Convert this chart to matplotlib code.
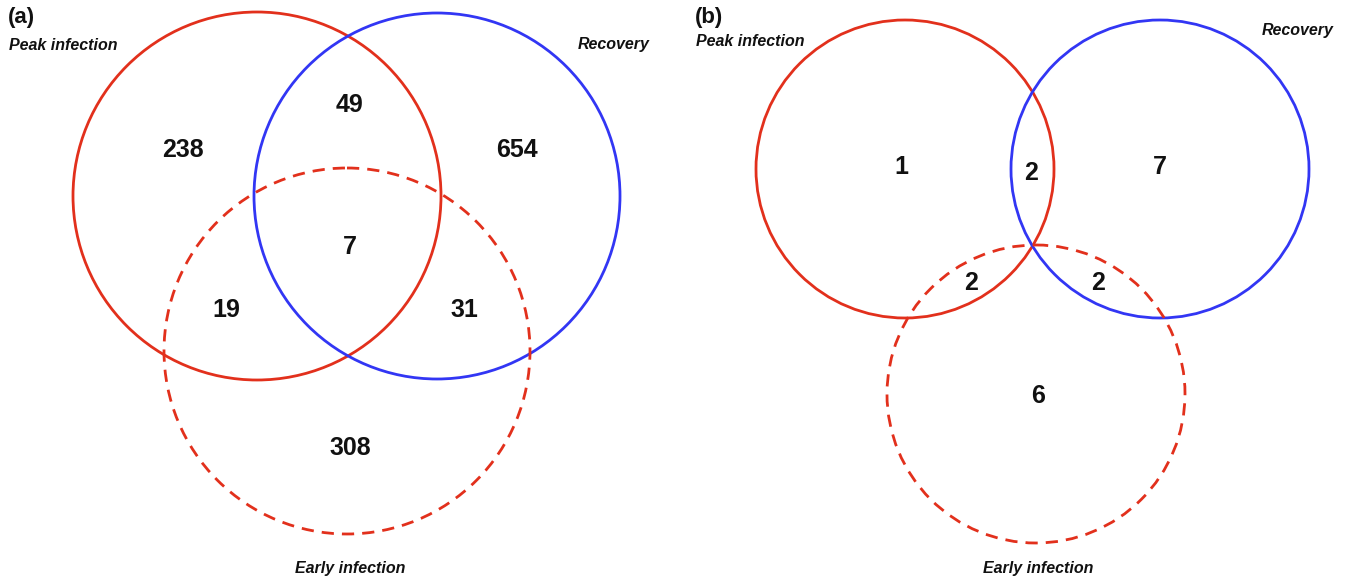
import matplotlib.pyplot as plt
from matplotlib.patches import Circle

plt.rcParams['font.family'] = ['Liberation Sans', 'DejaVu Sans']

# Gene counts per Venn region
panel_a_counts = [238, 49, 654, 7, 19, 31, 308]
panel_b_counts = [1, 2, 7, 2, 2, 6]
set_names = ["Peak infection", "Recovery", "Early infection"]
panel_titles = ["(a)", "(b)"]

RED = "#e2301c"
BLUE = "#3236f4"

fig = plt.figure(figsize=(13.45, 5.78), dpi=100)
ax = fig.add_axes([0, 0, 1, 1])
ax.set_xlim(0, 1345)
ax.set_ylim(578, 0)
ax.set_aspect('equal')
ax.axis('off')

LW = 2.0


def draw_circle(cx, cy, r, color, dashed=False):
    c = Circle((cx, cy), r, fill=False, edgecolor=color, linewidth=LW,
               linestyle=(0, (4.4, 2.9)) if dashed else '-')
    ax.add_patch(c)


num_kw = dict(ha='center', va='center', fontsize=18, fontweight='bold', color='#111111')
lab_kw = dict(fontsize=11.5, fontweight='bold', style='italic', color='#111111', va='center')
title_kw = dict(ha='left', va='center', fontsize=16, fontweight='bold', color='#111111')

# Panel (a)
draw_circle(257, 196, 184, RED)
draw_circle(437, 196, 183, BLUE)
draw_circle(347, 351, 183, RED, dashed=True)
pos_a = [(183, 150), (350, 105), (517, 150), (350, 247), (226, 310), (464, 310), (350, 448)]
for (x, y), v in zip(pos_a, panel_a_counts):
    ax.text(x, y, str(v), **num_kw)
ax.text(9, 45, set_names[0], ha='left', **lab_kw)
ax.text(650, 44, set_names[1], ha='right', **lab_kw)
ax.text(350, 568, set_names[2], ha='center', **lab_kw)
ax.text(8, 18, panel_titles[0], **title_kw)

# Panel (b)
draw_circle(905, 169, 149, RED)
draw_circle(1160, 169, 149, BLUE)
draw_circle(1036, 394, 149, RED, dashed=True)
pos_b = [(901, 167), (1031, 173), (1160, 167), (971, 283), (1098, 283), (1038, 396)]
for (x, y), v in zip(pos_b, panel_b_counts):
    ax.text(x, y, str(v), **num_kw)
ax.text(696, 41, set_names[0], ha='left', **lab_kw)
ax.text(1334, 30, set_names[1], ha='right', **lab_kw)
ax.text(1038, 568, set_names[2], ha='center', **lab_kw)
ax.text(695, 18, panel_titles[1], **title_kw)

fig.savefig("out.png", dpi=100, facecolor='white')
